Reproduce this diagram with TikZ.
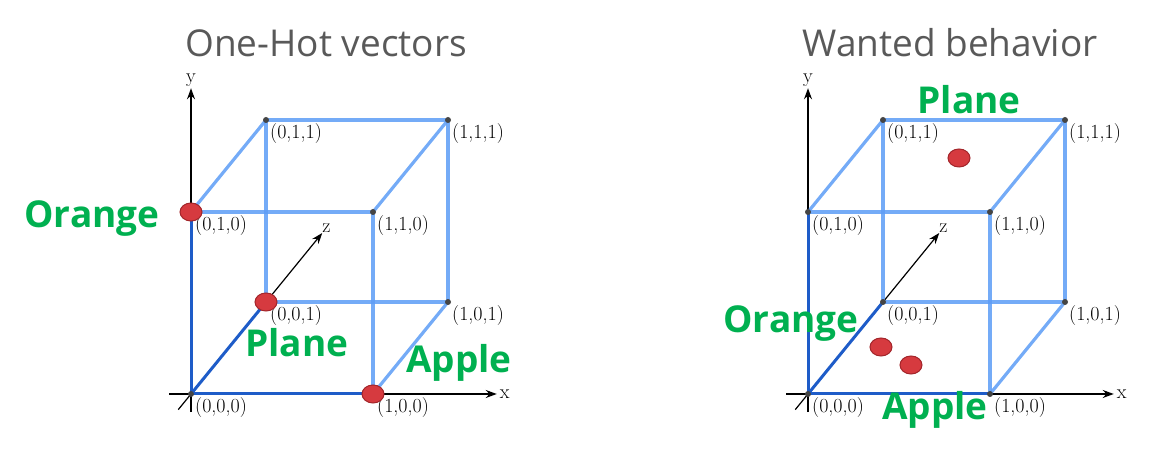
\documentclass[tikz,border=0pt]{standalone}
\usepackage{fontspec}
\setsansfont{Open Sans}
\usetikzlibrary{arrows.meta,shapes.geometric}
\definecolor{edgeBlue}{HTML}{5C9CF6}
\definecolor{axisBlue}{HTML}{1E5CC8}
\definecolor{dotRed}{HTML}{D63A3F}
\definecolor{dotRim}{HTML}{A3262B}
\definecolor{labelGreen}{HTML}{00B050}
\definecolor{titleGray}{HTML}{595959}
\definecolor{vertexGray}{HTML}{454545}

\begin{document}
\begin{tikzpicture}[x=1pt,y=1pt,
    edge/.style={edgeBlue,line width=3.2pt,opacity=.85},
    nearedge/.style={axisBlue,line width=3pt},
    axis/.style={black,line width=1.2pt,-{Stealth[length=11pt,width=8pt]}},
    vtx/.style={circle,fill=vertexGray,inner sep=0pt,minimum size=6pt},
    token/.style={ellipse,draw=dotRim,line width=1pt,fill=dotRed,minimum width=22pt,minimum height=18pt,inner sep=0pt},
    coordlbl/.style={anchor=north west,inner sep=0pt,font=\fontsize{20}{20}\selectfont},
    axislbl/.style={inner sep=1pt,font=\fontsize{20}{20}\selectfont},
    word/.style={anchor=base,inner sep=0pt,text=labelGreen,font=\sffamily\bfseries\fontsize{37}{37}\selectfont},
    heading/.style={anchor=base,inner sep=0pt,text=titleGray,font=\sffamily\fontsize{37}{37}\selectfont}]
  \useasboundingbox (0,0) rectangle (1157,457);
  \node[heading] (titleL) at (326,400) {One-Hot vectors};
  \node[heading] (titleR) at (950,400) {Wanted behavior};
  \foreach \cb/\ox in {L/191,R/808}{
    \begin{scope}[shift={(\ox,63)},x={(182pt,0pt)},y={(0pt,182pt)},z={(75pt,92pt)}]
      \foreach \a/\b/\c in {0/0/0,1/0/0,0/1/0,1/1/0,0/0/1,1/0/1,0/1/1,1/1/1}
        \coordinate (\cb\a\b\c) at (\a,\b,\c);
      % axes
      \coordinate (\cb xs) at (-0.12,0,0);
      \coordinate (\cb xe) at (1.68,0,0);
      \coordinate (\cb ys) at (0,-0.1,0);
      \coordinate (\cb ye) at (0,1.68,0);
      \coordinate (\cb zs) at (0,0,-0.17);
      \coordinate (\cb ze) at (0,0,1.75);
      \draw[axis] (\cb xs) -- (\cb xe);
      \draw[axis] (\cb ys) -- (\cb ye);
      \draw[axis] (\cb zs) -- (\cb ze);
      \node[axislbl,anchor=west,inner sep=0pt,xshift=3pt] (\cb xl) at (\cb xe) {x};
      \node[axislbl,anchor=south] (\cb yl) at (\cb ye) {y};
      \node[axislbl,anchor=south west,inner sep=0pt] (\cb zl) at (\cb ze) {z};
      % cube
      \foreach \p/\q in {100/110,010/110,110/111,010/011,011/111,001/101,001/011,101/111,100/101}
        \draw[edge] (\cb\p) -- (\cb\q);
      \foreach \q in {100,010,001}
        \draw[nearedge] (\cb000) -- (\cb\q);
      \foreach \a/\b/\c in {0/0/0,1/0/0,0/1/0,1/1/0,0/0/1,1/0/1,0/1/1,1/1/1}{
        \node[vtx] (d\cb\a\b\c) at (\cb\a\b\c) {};
        \node[coordlbl] (t\cb\a\b\c) at ([shift={(4pt,-3pt)}]\cb\a\b\c) {(\a,\b,\c)};
      }
    \end{scope}
  }
  % one-hot
  \node[token] (orangeL) at (L010) {};
  \node[token] (planeL) at (L001) {};
  \node[token] (appleL) at (L100) {};
  \node[word] (wOrangeL) at (92,229) {Orange};
  \node[word] (wPlaneL) at (297,100) {Plane};
  \node[word] (wAppleL) at (459,84) {Apple};
  % wanted
  \node[token] (planeR) at (959,299) {};
  \node[token] (orangeR) at (881,110) {};
  \node[token] (appleR) at (911,92) {};
  \node[word] (wPlaneR) at (969,343) {Plane};
  \node[word] (wOrangeR) at (791,124) {Orange};
  \node[word] (wAppleR) at (935,37) {Apple};
\end{tikzpicture}
\end{document}
